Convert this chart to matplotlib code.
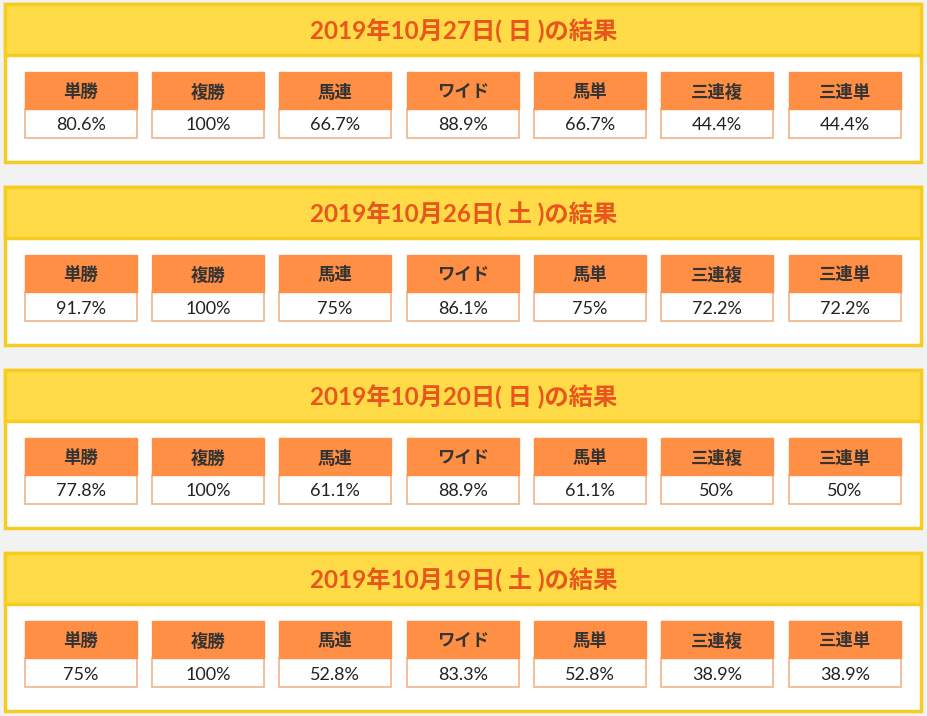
import matplotlib.pyplot as plt
from matplotlib.patches import Rectangle

plt.rcParams['font.family'] = ['Lato', 'Noto Sans CJK JP']

titles = ['2019年10月27日( 日 )の結果', '2019年10月26日( 土 )の結果',
          '2019年10月20日( 日 )の結果', '2019年10月19日( 土 )の結果']
bet_types = ['単勝', '複勝', '馬連', 'ワイド', '馬単', '三連複', '三連単']
rates_1027 = ['80.6%', '100%', '66.7%', '88.9%', '66.7%', '44.4%', '44.4%']
rates_1026 = ['91.7%', '100%', '75%', '86.1%', '75%', '72.2%', '72.2%']
rates_1020 = ['77.8%', '100%', '61.1%', '88.9%', '61.1%', '50%', '50%']
rates_1019 = ['75%', '100%', '52.8%', '83.3%', '52.8%', '38.9%', '38.9%']
all_rates = [rates_1027, rates_1026, rates_1020, rates_1019]

W, H = 927, 716
fig = plt.figure(figsize=(W / 100, H / 100), dpi=100)
fig.patch.set_facecolor('#f2f2f2')
ax = fig.add_axes([0, 0, 1, 1])
ax.set_xlim(0, W)
ax.set_ylim(H, 0)
ax.axis('off')

panel_tops = [4, 187, 370, 553]
cell_x = [25, 152, 279, 407, 534, 661, 789]
cell_w = 112

for top, title, rates in zip(panel_tops, titles, all_rates):
    ax.add_patch(Rectangle((5, top), 916, 158, facecolor='white',
                           edgecolor='#f5cc1f', lw=2.5))
    ax.add_patch(Rectangle((5, top), 916, 51, facecolor='#ffdb47',
                           edgecolor='#f5cc1f', lw=2.5))
    ax.text(W / 2, top + 27, title, ha='center', va='center', fontsize=17.5,
            fontweight='bold', color='#e8561d')
    for x, bt, r in zip(cell_x, bet_types, rates):
        ax.add_patch(Rectangle((x, top + 105), cell_w, 29, facecolor='white',
                               edgecolor='#f0b48a', lw=1.2))
        ax.add_patch(Rectangle((x, top + 68), cell_w, 37, facecolor='#ff8f45',
                               edgecolor='#ff8f45', lw=1))
        ax.text(x + cell_w / 2, top + 88, bt, ha='center', va='center',
                fontsize=12.5, fontweight='bold', color='#333333')
        ax.text(x + cell_w / 2, top + 121.5, r, ha='center', va='center',
                fontsize=13, color='#222222')

fig.savefig('out.png', dpi=100, facecolor=fig.get_facecolor())
